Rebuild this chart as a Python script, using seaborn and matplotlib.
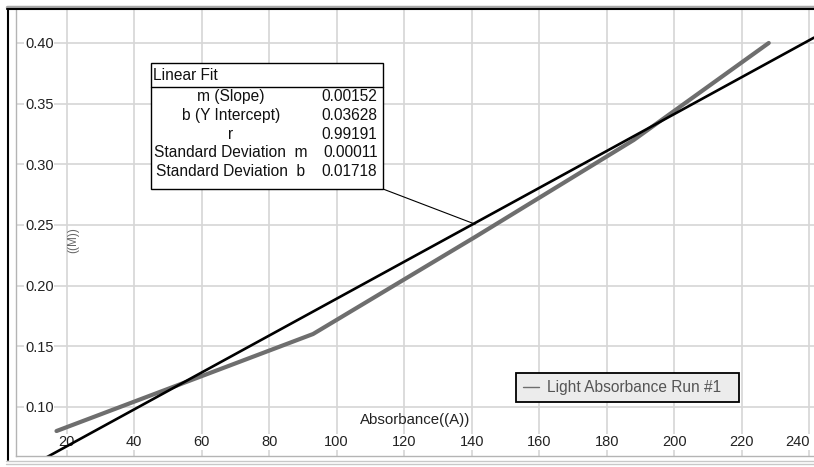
import numpy as np
import pandas as pd
import seaborn as sns
import matplotlib
matplotlib.use("Agg")
from matplotlib import pyplot as plt
from matplotlib.lines import Line2D
from matplotlib.patches import Rectangle
from matplotlib.ticker import MultipleLocator, FormatStrFormatter

# data
absorbance = [17, 93, 141, 188, 228]
concentration = [0.08, 0.16, 0.24, 0.32, 0.40]
run_label = "Light Absorbance Run #1"

fit_names = ["m (Slope)", "b (Y Intercept)", "r", "Standard Deviation  m", "Standard Deviation  b"]
fit_values = ["0.00152", "0.03628", "0.99191", "0.00011", "0.01718"]
slope, intercept = 0.00152, 0.03628

df = pd.DataFrame({"Absorbance": absorbance, "Conc": concentration})

sns.set_style("white")
plt.rcParams["font.family"] = ["Liberation Sans", "DejaVu Sans"]

W, H = 814, 467
fig = plt.figure(figsize=(W / 100, H / 100), dpi=100)

def fx(x):
    return x / W

def fy(y):
    return 1 - y / H

# plot area (pixel box 16..814 x 10..456)
ax = fig.add_axes([fx(16), fy(456), fx(814) - fx(16), fy(10) - fy(456)])
ax.set_xlim(5.0, 241.4)
ax.set_ylim(0.0594, 0.4272)

sns.lineplot(data=df, x="Absorbance", y="Conc", ax=ax, color="#6e6e6e",
             linewidth=3.0, label=run_label, sort=False)
sns.regplot(data=df, x="Absorbance", y="Conc", ax=ax, scatter=False, ci=None,
            truncate=False, line_kws=dict(color="black", linewidth=1.9))

ax.xaxis.set_major_locator(MultipleLocator(20))
ax.xaxis.set_minor_locator(MultipleLocator(5))
ax.yaxis.set_major_locator(MultipleLocator(0.05))
ax.yaxis.set_minor_locator(MultipleLocator(0.01))
ax.yaxis.set_major_formatter(FormatStrFormatter("%.2f"))
ax.grid(True, which="major", color="#d6d6d6", linewidth=1.2)
ax.set_axisbelow(True)

ax.tick_params(which="both", direction="in", colors="#909090", labelcolor="#222222",
               labelsize=10.5)
ax.tick_params(which="major", length=6)
ax.tick_params(which="minor", length=3.5)
ax.tick_params(axis="y", pad=-6.5)
ax.tick_params(axis="x", pad=-5)
fig.canvas.draw()
for lab in ax.get_yticklabels():
    lab.set_ha("left")
    lab.set_bbox(dict(facecolor="white", edgecolor="none", pad=0.5))
xlabs = ax.get_xticklabels()
for lab in xlabs:
    lab.set_va("bottom")
    lab.set_bbox(dict(facecolor="white", edgecolor="none", pad=0.5))
    if lab.get_text() == "240":
        lab.set_ha("right")

for s in ["top", "right"]:
    ax.spines[s].set_visible(False)
for s in ["left", "bottom"]:
    ax.spines[s].set_color("#b4b4b4")
    ax.spines[s].set_linewidth(1)

ax.set_xlabel("Absorbance((A))", fontsize=10.8, color="#222222", va="center")
ax.xaxis.set_label_coords(0.5, 0.081)
ax.set_ylabel("((M))", fontsize=8.5, color="#666666", va="center")
ax.yaxis.set_label_coords(0.0714, 0.484)

leg = ax.legend(loc="lower left", bbox_to_anchor=(0.6266, 0.121, 0.2794, 0),
                mode="expand", borderaxespad=0,
                fancybox=False, framealpha=1, fontsize=11.2, labelcolor="#555555",
                handlelength=1.0, handletextpad=0.55, borderpad=0.45)
leg.get_frame().set_facecolor("#ececec")
leg.get_frame().set_edgecolor("black")
leg.get_frame().set_linewidth(1.3)
for h in leg.get_lines():
    h.set_linewidth(1)

# Linear Fit box
tf = fig.transFigure
fig.add_artist(Rectangle((fx(151), fy(189)), fx(383) - fx(151), fy(63) - fy(189),
                         transform=tf, facecolor="white", edgecolor="black",
                         linewidth=1, zorder=5))
fig.add_artist(Line2D([fx(151), fx(383)], [fy(86.5), fy(86.5)], transform=tf,
                      color="black", linewidth=1, zorder=6))
fig.text(fx(153), fy(75), "Linear Fit", ha="left", va="center", fontsize=11.2,
         color="#111111", zorder=7)
for i, (name, val) in enumerate(zip(fit_names, fit_values)):
    y = 96.7 + i * 18.75
    fig.text(fx(231), fy(y), name, ha="center", va="center", fontsize=11.2,
             color="#111111", zorder=7)
    fig.text(fx(377.5), fy(y), val, ha="right", va="center", fontsize=11.2,
             color="#111111", zorder=7)
ax.annotate("", xy=(141, slope * 141 + intercept), xycoords="data",
            xytext=(fx(383), fy(189)), textcoords="figure fraction",
            arrowprops=dict(arrowstyle="-", color="black", linewidth=0.8,
                            shrinkA=0, shrinkB=0), zorder=6)

# window frame
fig.add_artist(Line2D([fx(7), fx(814)], [fy(6.5), fy(6.5)], transform=tf,
                      color="#a8a8a8", linewidth=2.5))
fig.add_artist(Line2D([fx(7), fx(814)], [fy(9), fy(9)], transform=tf,
                      color="black", linewidth=1.5))
fig.add_artist(Line2D([fx(8), fx(8)], [fy(9), fy(460)], transform=tf,
                      color="black", linewidth=1.5))
fig.add_artist(Line2D([fx(6), fx(814)], [fy(461), fy(461)], transform=tf,
                      color="#c8c8c8", linewidth=1))
fig.add_artist(Line2D([fx(6), fx(814)], [fy(464), fy(464)], transform=tf,
                      color="#c8c8c8", linewidth=1))

fig.savefig("out.png", dpi=100)
